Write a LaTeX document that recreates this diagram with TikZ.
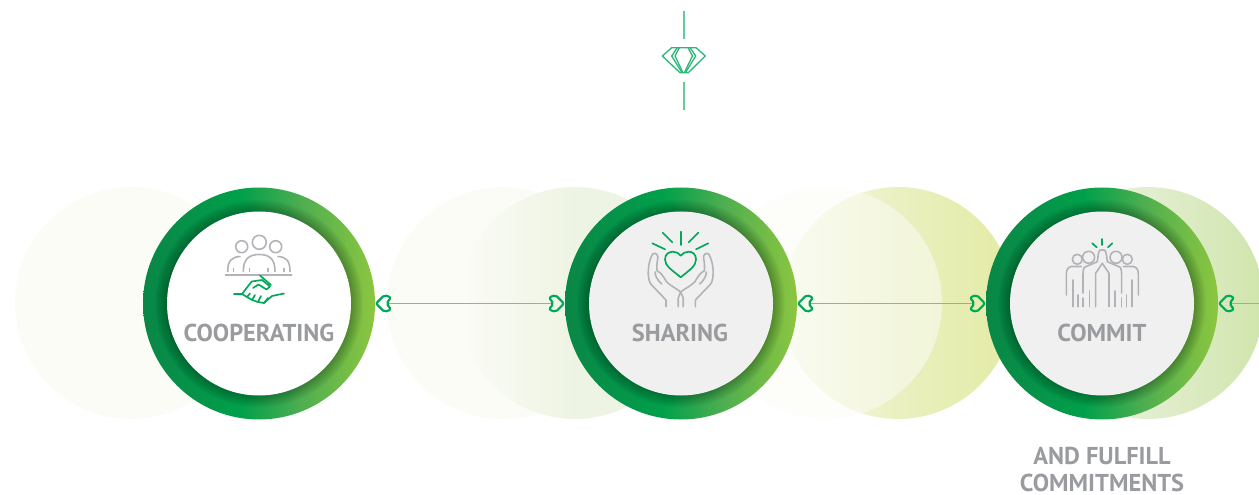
\documentclass[tikz,border=0pt]{standalone}
\usepackage{fontspec}
\setmainfont{PT Sans}
\usepackage{tikz}
\tikzset{every picture/.style={line width=0.75pt}}
\definecolor{ringdark}{RGB}{10,134,70}
\definecolor{ringmid}{RGB}{0,160,75}
\definecolor{ringleaf}{RGB}{78,174,80}
\definecolor{ringlime}{RGB}{140,198,63}
\definecolor{iconbase}{RGB}{178,179,182}
\definecolor{iconleaf}{RGB}{0,168,89}
\definecolor{labelgrey}{RGB}{154,155,159}
\definecolor{linkgrey}{RGB}{165,166,168}
\pgfdeclarehorizontalshading{ringshade}{100bp}{color(0bp)=(ringdark); color(25bp)=(ringdark); color(46bp)=(ringmid); color(59bp)=(ringleaf); color(75bp)=(ringlime); color(100bp)=(ringlime)}
\definecolor{paleleft}{RGB}{251,252,246}
\definecolor{paletwo}{RGB}{238,244,227}
\definecolor{palethreea}{RGB}{250,251,236}
\definecolor{palethreeb}{RGB}{234,240,192}
\definecolor{palethreec}{RGB}{227,235,165}
\definecolor{palefoura}{RGB}{240,245,229}
\definecolor{palefourb}{RGB}{226,238,207}
\definecolor{palefourc}{RGB}{208,229,172}
\pgfdeclarehorizontalshading{halotwo}{100bp}{color(0bp)=(paleleft); color(25bp)=(paleleft); color(50bp)=(paletwo); color(100bp)=(paletwo)}
\pgfdeclarehorizontalshading{halothree}{100bp}{color(0bp)=(palethreea); color(25bp)=(palethreea); color(50bp)=(palethreeb); color(75bp)=(palethreec); color(100bp)=(palethreec)}
\pgfdeclarehorizontalshading{halofour}{100bp}{color(0bp)=(palefoura); color(25bp)=(palefoura); color(50bp)=(palefourb); color(75bp)=(palefourc); color(100bp)=(palefourc)}
\tikzset{
  halo/.style={circle,minimum size=174pt,inner sep=0pt},
  ringnode/.style={circle,minimum size=174pt,inner sep=0pt,shade,shading=ringshade},
  discnode/.style={circle,minimum size=138pt,inner sep=0pt},
  caption/.style={inner sep=0.75pt,text=labelgrey,font=\fontsize{18.3}{20.25}\selectfont\bfseries},
  greyicon/.style={color=iconbase,line width=1.2pt,line join=round,line cap=round},
  greenicon/.style={color=iconleaf,line width=1.25pt,line join=round,line cap=round},
  gemline/.style={color={rgb, 255:red, 45; green, 184; blue, 123 },line width=1pt,line join=round},
  gemstem/.style={color={rgb, 255:red, 100; green, 203; blue, 160 },line width=1.2pt},
  link/.style={color=linkgrey,line width=1.4pt,shorten <=8.5pt,shorten >=8.5pt},
  leaftip/.pic={\draw [color=iconleaf,line width=1.6pt,line join=round,rounded corners=1.5pt] (0.5,0) -- (9,-8.5) -- (15.5,-6) -- (11,0) -- (15.5,6) -- (9,8.5) -- cycle ;}
}

\begin{document}
\begin{tikzpicture}[x=0.75pt,y=0.75pt,yscale=-1,xscale=1]
\useasboundingbox (0,0) rectangle (1259,495);

%Pale circles behind the rings
\node [halo,fill=paleleft] (haloa) at (131,303) {};
\node [halo,fill=paleleft] (haloc) at (503,303) {};
\node [halo,shade,shading=halotwo] (halob) at (575,303) {};
\node [halo,shade,shading=halothree] (halod) at (898,303) {};
\node [halo,fill=paleleft,opacity=0.55] (haloe) at (826,303) {};
\node [halo,shade,shading=halofour] (halof) at (1148,303) {};

%Rings
\node [ringnode] (cooperating) at (259,303.5) {};
\node [ringnode] (sharing) at (681,303.5) {};
\node [ringnode] (commit) at (1102,303.5) {};
\foreach \ringname in {cooperating,sharing,commit}{
  \foreach \rad in {92,93,...,103}{
    \fill [black,opacity=0.022] (\ringname.center) circle (\rad+1);
  }
}
\node [discnode,fill=white] (cooperatingdisc) at (cooperating.center) {};
\node [discnode,fill={rgb, 255:red, 240; green, 240; blue, 240 }] (sharingdisc) at (sharing.center) {};
\node [discnode,fill={rgb, 255:red, 240; green, 240; blue, 240 }] (commitdisc) at (commit.center) {};

%Connectors
\coordinate (offpage) at (1290,303.5);
\draw [link] (cooperating) -- (sharing);
\draw [link] (sharing) -- (commit);
\draw [link] (commit) -- (offpage);
\pic at (cooperating.east) {leaftip};
\pic [rotate=180] at (sharing.west) {leaftip};
\pic at (sharing.east) {leaftip};
\pic [rotate=180] at (commit.west) {leaftip};
\pic at (commit.east) {leaftip};

%Gem
\node [minimum width=32pt,minimum height=31pt,inner sep=0pt] (gem) at (683.7,60.5) {};
\coordinate (gemup) at (683.7,11);
\coordinate (gemdown) at (683.7,110);
\draw [gemstem] (gemup) -- (gem.north);
\draw [gemstem] (gem.south) -- (gemdown);
\draw [gemline] (671.7,47.7) -- (696,47.7) -- (705.3,56) -- (688.3,72.7) -- (680,72.7) -- (662.3,56) -- cycle ;
\draw [gemline] (677.3,47.7) -- (671.7,56) -- (682,72.7) ;
\draw [gemline] (679.3,47.7) -- (675,56) -- (683,72.7) ;
\draw [gemline] (690.1,47.7) -- (695.7,56) -- (685.4,72.7) ;
\draw [gemline] (688.1,47.7) -- (692.4,56) -- (684.4,72.7) ;

%Icon: people at a table
\draw [greyicon] (241.7,246.7) circle (6) ;
\draw [greyicon] (259.3,242.3) circle (7) ;
\draw [greyicon] (275.7,246.7) circle (6) ;
\draw [greyicon,line width=1.4pt] (225.7,274.7) -- (291.7,274.7) ;
\draw [greyicon] (243.3,271.5) .. controls (243.3,259) and (249,254.5) .. (259.3,254.5) .. controls (269.5,254.5) and (275,259) .. (275,271.5) ;
\draw [greyicon] (227.7,271.5) .. controls (227.7,261) and (231.5,257) .. (240,256.5) ;
\draw [greyicon] (290,271.5) .. controls (290,261) and (286.5,257) .. (278,256.5) ;
\draw [greyicon] (233.5,271.5) -- (233.5,268.5) ;
\draw [greyicon] (249.5,271.5) -- (249.5,268.5) ;
\draw [greyicon] (268,271.5) -- (268,268.5) ;
\draw [greyicon] (284,271.5) -- (284,268.5) ;

%Icon: handshake
\draw [greenicon] (234,294) -- (242,294) -- (251.7,281.5) -- (262,280) -- (270,286.5) -- (266.5,289.5) -- (258.5,284.5) -- (253,288) ;
\draw [greenicon] (260,275.5) -- (271,285) ;
\draw [greenicon] (242,294) -- (247,297) -- (250,293.5) ;
\draw [greenicon] (247,297) -- (252,300) -- (255,295) ;
\draw [greenicon] (252,300) -- (258,302) -- (261,296) ;
\draw [greenicon] (258,302) -- (264,303) -- (268,298) ;
\draw [greenicon] (264,303) -- (272,296) -- (284,293.5) ;

%Icon: hands and heart
\draw [greenicon] (680.7,231.7) -- (680.7,245) ;
\draw [greenicon] (662.7,232.7) -- (672.3,242.3) ;
\draw [greenicon] (698.3,232.7) -- (688.7,242.3) ;
\draw [greenicon] (652.3,243.3) -- (665,249.3) ;
\draw [greenicon] (708.3,243.3) -- (696,249.3) ;
\draw [greenicon] (680.7,277.3) .. controls (672,270) and (665,266) .. (665,259.5) .. controls (665,254) and (669,251.7) .. (673,251.7) .. controls (676.5,251.7) and (679,253.5) .. (680.7,255.7) .. controls (682.5,253.5) and (685,251.7) .. (688.5,251.7) .. controls (692.5,251.7) and (696,254) .. (696,259.5) .. controls (696,266) and (689.5,270) .. (680.7,277.3) -- cycle ;
\foreach \side in {1,-1}{
  \begin{scope}[shift={(680.7,0)},xscale=\side]
    \draw [greyicon] (-14.7,306.7) -- (-14.7,300) -- (-30,284) .. controls (-34,278) and (-33,262) .. (-28,254) .. controls (-25,252) and (-22,255) .. (-23,259) .. controls (-24,263) and (-24,268) .. (-23.5,271) ;
    \draw [greyicon] (-23.5,271) .. controls (-20,272) and (-17,277) .. (-14,282) .. controls (-10,286) and (-5,288) .. (0,292) ;
    \draw [greyicon] (-25.5,272) .. controls (-26.5,274) and (-23,281) .. (-19,284) ;
    \draw [greyicon] (-2.5,306.7) -- (-2.5,298) -- (0,292) ;
  \end{scope}
}

%Icon: raised hands
\draw [greenicon] (1102.3,239) -- (1102.3,245) ;
\draw [greenicon] (1092.3,243.3) -- (1096.7,247.3) ;
\draw [greenicon] (1112.3,243.3) -- (1107.9,247.3) ;
\foreach \side in {1,-1}{
  \begin{scope}[shift={(1102.3,0)},xscale=\side]
    \draw [greyicon] (25,259.3) circle (5) ;
    \draw [greyicon] (13.7,257.3) circle (6) ;
    \draw [greyicon] (0,250) .. controls (2,249) and (3,250) .. (4,254) -- (5,261.7) -- (18,267.3) .. controls (19,269) and (19.3,271) .. (19.3,274) -- (19.3,293) ;
    \draw [greyicon] (0,263.3) -- (6.7,273.3) -- (6.7,306.7) ;
    \draw [greyicon] (21,266.5) -- (31,266.5) .. controls (34.5,267) and (36,270) .. (36,274) -- (36,295) ;
    \draw [greyicon] (29.5,280) -- (29.5,306.7) ;
    \draw [greyicon] (24.3,295) -- (24.3,306.7) ;
    \draw [greyicon] (12.7,291) -- (12.7,306.7) ;
    \draw [greyicon] (19.3,298) -- (19.3,306.7) ;
  \end{scope}
}

% Text Node
\node [caption] (cooperatinglabel) at (259,333) {COOPERATING};
% Text Node
\node [caption] (sharinglabel) at (680,333) {SHARING};
% Text Node
\node [caption] (commitlabel) at (1102,333) {COMMIT};
% Text Node
\node [caption] (fulfilllabel) at (1102,456) {AND FULFILL};
% Text Node
\node [caption] (commitmentslabel) at (1102,482.5) {COMMITMENTS};

\end{tikzpicture}
\end{document}
